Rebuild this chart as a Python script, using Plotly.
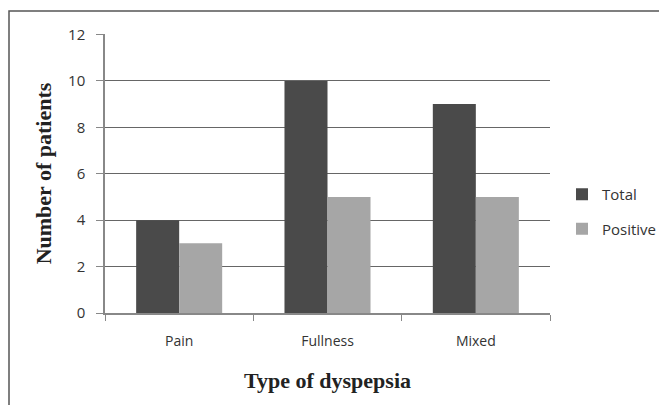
import plotly.graph_objects as go

categories = ["Pain", "Fullness", "Mixed"]
total = [4, 10, 9]
positive = [3, 5, 5]
y_ticks = [0, 2, 4, 6, 8, 10, 12]

# page has 8px body margin, so the figure is drawn 8px in from the top-left
OFF = 8
W, H = 667 - OFF, 405 - OFF
L, T = 105 - OFF, 34 - OFF
R = W - (550 - OFF)
B = H - (313 - OFF)
pw, ph = W - L - R, H - T - B

fig = go.Figure()
fig.add_trace(go.Bar(name="Total", x=categories, y=total, marker=dict(color="#4a4a4a", line=dict(width=0)),
                     legendgroup="a"))
fig.add_trace(go.Bar(name="Positive", x=categories, y=positive, marker=dict(color="#a6a6a6", line=dict(width=0)),
                     legendgroup="b"))

fig.update_layout(
    width=W, height=H,
    margin=dict(l=L, r=R, t=T, b=B, autoexpand=False),
    paper_bgcolor="white", plot_bgcolor="white",
    barmode="group", bargap=0.42, bargroupgap=0,
    font=dict(family="Open Sans, Liberation Sans, sans-serif", size=14, color="#333"),
    legend=dict(x=(562 - 550) / pw + 1, y=(313 - 178) / ph, xanchor="left", yanchor="top",
                font=dict(size=15, color="#333"), tracegroupgap=12, itemsizing="constant",
                bgcolor="rgba(0,0,0,0)"),
    xaxis=dict(showline=True, linecolor="#888", linewidth=1.5, ticks="outside", tickson="boundaries",
               ticklen=6, tickcolor="#888", showgrid=False, automargin=False,
               ticklabelstandoff=14,
               tickfont=dict(size=14, color="#333"),
               title=dict(text="<b>Type of dyspepsia</b>", standoff=24,
                          font=dict(family="Liberation Serif, Times New Roman, serif", size=22, color="#222"))),
    yaxis=dict(range=[0, 12.02], tickvals=y_ticks, showline=True, linecolor="#888", linewidth=1.5,
               ticks="outside", ticklen=7, tickcolor="#888", showgrid=True, gridcolor="#666", gridwidth=1,
               zeroline=False, automargin=False, ticklabelstandoff=8, tickfont=dict(size=15, color="#333"),
               title=dict(text="<b>Number of patients</b>", standoff=10,
                          font=dict(family="Liberation Serif, Times New Roman, serif", size=22, color="#222"))),
    shapes=[dict(type="rect", xref="paper", yref="paper",
                 x0=(9 - 105) / pw, x1=1.6, y0=-0.6, y1=(313 - 11) / ph,
                 line=dict(color="#555", width=1.5), layer="below")],
)

fig.write_html("out.html")
